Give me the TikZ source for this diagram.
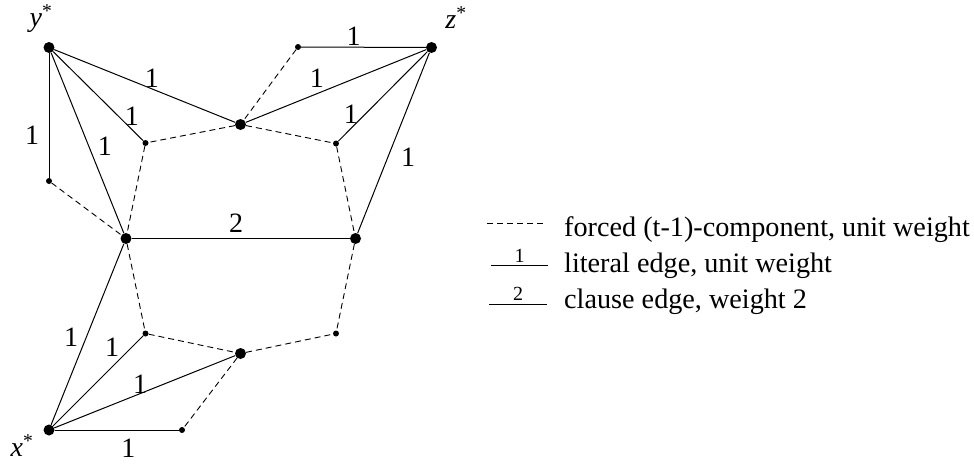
\documentclass[tikz,border=0pt]{standalone}
\usepackage{fontspec}
\setmainfont{Liberation Serif}
\begin{document}
\begin{tikzpicture}[x=1pt,y=-1pt,
  big/.style={circle,fill=black,inner sep=0pt,minimum size=11pt},
  small/.style={circle,fill=black,inner sep=0pt,minimum size=6pt},
  forced/.style={draw=black,dash pattern=on 6pt off 4pt,line width=0.9pt},
  lit/.style={draw=black,line width=1pt},
  wt/.style={font=\fontsize{28}{30}\selectfont,inner sep=0pt},
  swt/.style={font=\fontsize{20}{20}\selectfont,inner sep=3pt,above},
  lgd/.style={font=\fontsize{28.2}{30}\selectfont,inner sep=0pt,anchor=base west},
  vlab/.style={font=\fontsize{28}{30}\selectfont,inner sep=0pt}]
\useasboundingbox (0,0) rectangle (974,464);
% vertices
\node[big] (Y) at (49,47.5) {};
\node[big] (Z) at (431.5,47.5) {};
\node[big] (X) at (49,430) {};
\node[small] (a) at (298,47) {};
\node[big] (c) at (240.5,124.5) {};
\node[small] (b) at (145.5,143) {};
\node[small] (d) at (336,143.5) {};
\node[small] (e) at (49,181) {};
\node[big] (L) at (126,238.5) {};
\node[big] (R) at (355.5,238.5) {};
\node[small] (f) at (145.5,333.5) {};
\node[small] (g) at (336,333.5) {};
\node[big] (h) at (240.5,353.5) {};
\node[small] (k) at (182,430) {};
% vertex labels
\node[vlab] (ylab) at (41,19) {\textit{y}\textsuperscript{*}};
\node[vlab] (zlab) at (456,18) {\textit{z}\textsuperscript{*}};
\node[vlab] (xlab) at (22,446) {\textit{x}\textsuperscript{*}};
% forced components
\draw[forced] (a) -- (c);
\draw[forced] (c) -- (b);
\draw[forced] (c) -- (d);
\draw[forced] (b) -- (L);
\draw[forced] (d) -- (R);
\draw[forced] (e) -- (L);
\draw[forced] (L) -- (f);
\draw[forced] (R) -- (g);
\draw[forced] (f) -- (h);
\draw[forced] (h) -- (g);
\draw[forced] (h) -- (k);
% literal edges
\draw[lit] (Y) -- (c) node[wt,pos=0.518,xshift=3.8pt,yshift=9.4pt] {1};
\draw[lit] (Y) -- (b) node[wt,pos=0.80,xshift=6.8pt,yshift=6.9pt] {1};
\draw[lit] (Y) -- (L) node[wt,pos=0.55,xshift=13.7pt,yshift=5.5pt] {1};
\draw[lit] (Y) -- (e) node[wt,pos=0.655,xshift=-17pt] {1};
\draw[lit] (a) -- (Z) node[wt,pos=0.42,yshift=11.3pt] {1};
\draw[lit] (c) -- (Z) node[wt,pos=0.423,xshift=-5.3pt,yshift=12.9pt] {1};
\draw[lit] (d) -- (Z) node[wt,pos=0.2225,xshift=-7.2pt,yshift=7.3pt] {1};
\draw[lit] (R) -- (Z) node[wt,pos=0.458,xshift=17.7pt,yshift=-7pt] {1};
\draw[lit] (X) -- (L) node[wt,pos=0.453,xshift=-12.9pt,yshift=5.2pt] {1};
\draw[lit] (X) -- (f) node[wt,pos=0.767,xshift=-10pt,yshift=10pt] {1};
\draw[lit] (X) -- (h) node[wt,pos=0.4926,xshift=-3.3pt,yshift=8.3pt] {1};
\draw[lit] (X) -- (k) node[wt,pos=0.594,yshift=-18pt] {1};
% clause edge
\draw[lit] (L) -- (R) node[wt,pos=0.479,yshift=15.5pt] {2};
% legend
\coordinate (l1a) at (487,223);
\coordinate (l1b) at (544,223);
\coordinate (l2a) at (491,265.7);
\coordinate (l2b) at (548,265.7);
\coordinate (l3a) at (489,304);
\coordinate (l3b) at (547,304);
\draw[forced] (l1a) -- (l1b);
\draw[lit] (l2a) -- (l2b) node[swt,midway] {1};
\draw[lit] (l3a) -- (l3b) node[swt,midway] {2};
\node[lgd] (t1) at (564,236) {forced (t-1)-component, unit weight};
\node[lgd] (t2) at (564,272) {literal edge, unit weight};
\node[lgd] (t3) at (564,308) {clause edge, weight 2};
\end{tikzpicture}
\end{document}
